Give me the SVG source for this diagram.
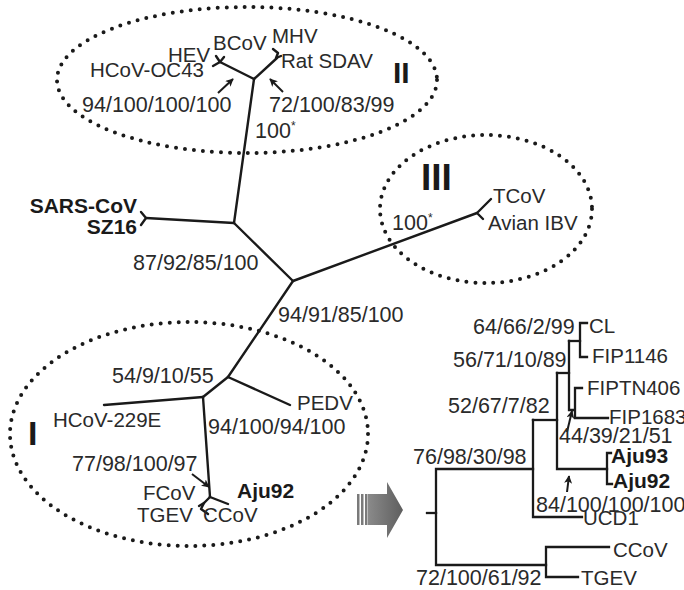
<svg xmlns="http://www.w3.org/2000/svg" width="684" height="590" viewBox="0 0 684 590">
<defs>
<marker id="ah" viewBox="0 0 10 10" refX="9" refY="5" markerWidth="4" markerHeight="4" orient="auto" markerUnits="strokeWidth">
<path d="M0,0 L10,5 L0,10 L2.5,5 Z" fill="#1a1a1a"/>
</marker>
<linearGradient id="ga" x1="0" y1="0" x2="1" y2="0">
<stop offset="0" stop-color="#8a8a8a"/>
<stop offset="1" stop-color="#5e5e5e"/>
</linearGradient>
</defs>
<style>
text{font-family:"Liberation Sans",Arial,sans-serif;font-size:20.5px;fill:#2a2a2a}
.n{font-size:21.5px}
.b{font-weight:bold;font-size:21px;fill:#1a1a1a}
.rn{font-weight:bold;fill:#1a1a1a}
.br{fill:none;stroke:#1a1a1a;stroke-width:2.4;stroke-linejoin:round;stroke-linecap:round}
.rt{fill:none;stroke:#1a1a1a;stroke-width:2.3;stroke-linejoin:miter;stroke-linecap:square}
.ar{fill:none;stroke:#1a1a1a;stroke-width:2;marker-end:url(#ah)}
.el{fill:none;stroke:#1a1a1a;stroke-width:4;stroke-dasharray:0 9;stroke-linecap:round}
.sup{font-size:12px}
</style>
<rect width="684" height="590" fill="#ffffff"/>

<g id="groups">
<ellipse id="groupII" class="el" cx="247" cy="80" rx="190" ry="73"/>
<ellipse id="groupIII" class="el" cx="486" cy="209" rx="106" ry="74"/>
<ellipse id="groupI" class="el" cx="189" cy="434" rx="179" ry="112"/>
<text class="rn" x="393" y="83" style="font-size:30px">II</text>
<text class="rn" x="421" y="190" style="font-size:37px">III</text>
<text class="rn" x="28" y="445" style="font-size:34px">I</text>
</g>

<g id="connectors">
<!-- main unrooted tree -->
<polyline class="br" points="254,79 234,223"/>
<polyline class="br" points="254,79 220,62"/>
<polyline class="br" points="216,56 220,62 213,66"/>
<polyline class="br" points="220,62 224,57"/>
<polyline class="br" points="254,79 277,58"/>
<polyline class="br" points="273,49 278,53 276,58 281,56"/>
<polyline class="br" points="234,223 146,218"/>
<polyline class="br" points="141,212 146,218 141,225"/>
<polyline class="br" points="234,223 293,281"/>
<polyline class="br" points="293,281 477,213"/>
<polyline class="br" points="491,199 477,213 483,219"/>
<polyline class="br" points="293,281 228,377"/>
<polyline class="br" points="228,377 290,405"/>
<polyline class="br" points="228,377 203,397"/>
<polyline class="br" points="203,397 104,405"/>
<polyline class="br" points="203,397 210,497"/>
<polyline class="br" points="210,497 228,504"/>
<polyline class="br" points="210,497 204,503 199,506"/>
<polyline class="br" points="204,503 201,509 208,514"/>
<!-- small arrows -->
<line class="ar" x1="218" y1="93" x2="233" y2="79"/>
<line class="ar" x1="283" y1="92" x2="270" y2="79"/>
<line class="ar" x1="192" y1="474" x2="209" y2="487"/>
<line class="ar" x1="567" y1="432" x2="572" y2="411"/>
<line class="ar" x1="567" y1="492" x2="569" y2="476"/>
<!-- rooted tree -->
<line class="rt" x1="427" y1="513" x2="436" y2="513"/>
<polyline class="rt" points="533,469 436,469 436,565 546,565"/>
<polyline class="rt" points="582,517 533,517 533,420"/>
<polyline class="rt" points="557,373 557,469 607,469"/>
<line class="rt" x1="533" y1="420" x2="557" y2="420"/>
<polyline class="rt" points="609,547 546,547 546,577 578,577"/>
<polyline class="rt" points="611,453 607,453 607,484 612,484"/>
<line class="rt" x1="557" y1="373" x2="569" y2="373"/>
<polyline class="rt" points="569,341 569,410 573,410"/>
<polyline class="rt" points="587,323 580,323 580,357 587,357"/>
<line class="rt" x1="569" y1="341" x2="580" y2="341"/>
<polyline class="rt" points="582,388 575,388 575,418 608,418"/>
</g>

<g id="arrow-big">
<rect x="357" y="494" width="2.5" height="31" fill="#7a7a7a"/>
<rect x="361" y="494" width="2.5" height="31" fill="#7a7a7a"/>
<rect x="365" y="494" width="2.5" height="31" fill="#7a7a7a"/>
<path d="M368,494 L387,494 L387,482 L403,510 L387,538 L387,525 L368,525 Z" fill="url(#ga)"/>
</g>

<g id="n-hev"><text x="168" y="62">HEV</text></g>
<g id="n-bcov"><text x="213" y="50">BCoV</text></g>
<g id="n-mhv"><text x="272" y="43">MHV</text></g>
<g id="n-oc43"><text x="90" y="77">HCoV-OC43</text></g>
<g id="n-ratsdav"><text x="281" y="68">Rat SDAV</text></g>
<g id="l-ii-a"><text class="n" x="82" y="112">94/100/100/100</text></g>
<g id="l-ii-b"><text class="n" x="269" y="112">72/100/83/99</text></g>
<g id="l-ii-c"><text class="n" x="255" y="138">100<tspan class="sup" dy="-8">*</tspan></text></g>
<g id="n-sars"><text class="b" x="137" y="213" text-anchor="end">SARS-CoV</text><text class="b" x="137" y="234" text-anchor="end">SZ16</text></g>
<g id="l-87"><text class="n" x="133" y="270">87/92/85/100</text></g>
<g id="n-tcov"><text x="493" y="203">TCoV</text></g>
<g id="n-ibv"><text x="488" y="230">Avian IBV</text></g>
<g id="l-iii"><text class="n" x="392" y="230">100<tspan class="sup" dy="-8">*</tspan></text></g>
<g id="l-94"><text class="n" x="278" y="322">94/91/85/100</text></g>
<g id="l-54"><text class="n" x="112" y="383">54/9/10/55</text></g>
<g id="n-pedv"><text x="297" y="410">PEDV</text></g>
<g id="n-229e"><text x="53" y="427">HCoV-229E</text></g>
<g id="l-94b"><text class="n" x="208" y="434">94/100/94/100</text></g>
<g id="l-77"><text class="n" x="72" y="471">77/98/100/97</text></g>
<g id="n-fcov"><text x="143" y="500">FCoV</text></g>
<g id="n-aju92a"><text class="b" x="237" y="498">Aju92</text></g>
<g id="n-tgev"><text x="137" y="522">TGEV</text></g>
<g id="n-ccov"><text x="203" y="522">CCoV</text></g>

<g id="r-64"><text class="n" x="473" y="334">64/66/2/99</text></g>
<g id="r-cl"><text x="589" y="333">CL</text></g>
<g id="r-56"><text class="n" x="453" y="367">56/71/10/89</text></g>
<g id="r-fip1146"><text x="592" y="363">FIP1146</text></g>
<g id="r-fiptn406"><text x="587" y="395">FIPTN406</text></g>
<g id="r-52"><text class="n" x="448" y="413">52/67/7/82</text></g>
<g id="r-fip1683"><text x="609" y="424">FIP1683</text></g>
<g id="r-44"><text class="n" x="559" y="443">44/39/21/51</text></g>
<g id="r-76"><text class="n" x="413" y="464">76/98/30/98</text></g>
<g id="r-aju93"><text class="b" x="611" y="463">Aju93</text></g>
<g id="r-aju92"><text class="b" x="613" y="488">Aju92</text></g>
<g id="r-84"><text class="n" x="536" y="512">84/100/100/100</text></g>
<g id="r-ucd1"><text x="583" y="525">UCD1</text></g>
<g id="r-ccov"><text x="613" y="557">CCoV</text></g>
<g id="r-72"><text class="n" x="416" y="585">72/100/61/92</text></g>
<g id="r-tgev"><text x="581" y="585">TGEV</text></g>
</svg>
